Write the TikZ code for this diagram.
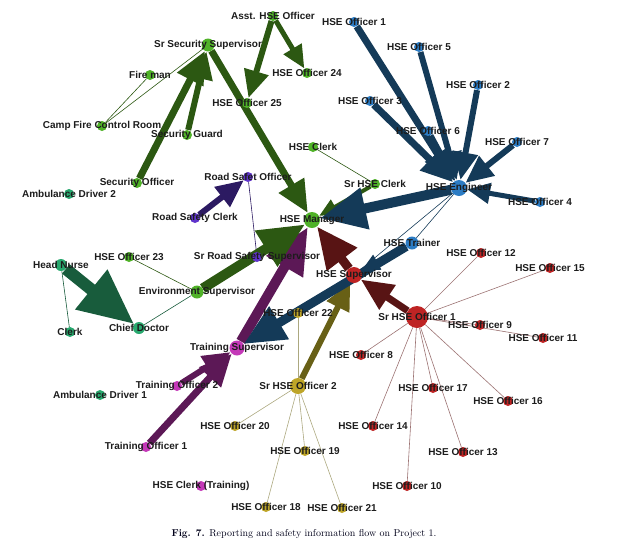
\documentclass[tikz,border=0pt]{standalone}
\usepackage{fontspec}
\newfontfamily\lblfont{Liberation Sans}
\usepackage{tikz}
\usetikzlibrary{arrows.meta}
\pgfdeclarelayer{bg}
\pgfsetlayers{bg,main}

\definecolor{gnode}{RGB}{80,178,40}
\definecolor{gedge}{RGB}{44,88,18}
\definecolor{bnode}{RGB}{44,124,196}
\definecolor{bedge}{RGB}{20,58,88}
\definecolor{rnode}{RGB}{190,36,36}
\definecolor{redge}{RGB}{88,20,20}
\definecolor{onode}{RGB}{190,165,40}
\definecolor{oedge}{RGB}{104,96,22}
\definecolor{mnode}{RGB}{196,56,184}
\definecolor{medge}{RGB}{92,24,86}
\definecolor{vnode}{RGB}{96,52,204}
\definecolor{vedge}{RGB}{44,26,98}
\definecolor{tnode}{RGB}{40,168,110}
\definecolor{tedge}{RGB}{24,92,60}
\definecolor{lbl}{RGB}{28,28,28}

\begin{document}
\begin{tikzpicture}[x=1pt,y=-1pt,
    nd/.style={circle,inner sep=0pt,minimum size=10pt},
    every label/.style={font=\lblfont\bfseries\fontsize{10}{12}\selectfont,text=lbl},
    fl/.style={line width=#1,-{Triangle[length=0pt 4.6,width=0pt 4]}},
    tn/.style={line width=0.6pt},
    gn/.style={nd,fill=gnode}, ge/.style={draw=gedge},
    bn/.style={nd,fill=bnode}, be/.style={draw=bedge},
    rn/.style={nd,fill=rnode}, re/.style={draw=redge},
    on/.style={nd,fill=onode}, oe/.style={draw=oedge},
    mn/.style={nd,fill=mnode}, me/.style={draw=medge},
    vn/.style={nd,fill=vnode}, ve/.style={draw=vedge},
    tln/.style={nd,fill=tnode}, te/.style={draw=tedge}]

  \useasboundingbox (0,0) rectangle (624,555);

  % security / site group
  \node[gn,label=center:{Asst. HSE Officer}] (aho) at (273,16) {};
  \node[gn,minimum size=13pt,label=center:{Sr Security Supervisor}] (sss) at (208,45) {};
  \node[gn,label=center:{Fire man}] (fm) at (150,75) {};
  \node[gn,label=center:{Camp Fire Control Room}] (cfr) at (102,126) {};
  \node[gn,label=center:{Security Guard}] (sg) at (187,135) {};
  \node[gn,label=center:{HSE Officer 25}] (o25) at (247,103) {};
  \node[gn,label=center:{HSE Officer 24}] (o24) at (307,73) {};
  \node[gn,label=center:{Security Officer}] (so) at (137,183) {};
  \node[gn,label=center:{HSE Clerk}] (hc) at (313,147) {};
  \node[gn,label=center:{Sr HSE Clerk}] (shc) at (375,184) {};
  \node[gn,minimum size=16pt,label=center:{HSE Manager}] (mgr) at (312,220) {};
  \node[gn,label=center:{HSE Officer 23}] (o23) at (129,257) {};
  \node[gn,minimum size=13pt,label=center:{Environment Supervisor}] (env) at (197,292) {};

  % medical
  \node[tln,label=center:{Ambulance Driver 2}] (ad2) at (69,194) {};
  \node[tln,minimum size=12pt,label=center:{Head Nurse}] (hn) at (61,265) {};
  \node[tln,label=center:{Clerk}] (clk) at (70,332) {};
  \node[tln,minimum size=12pt,label=center:{Chief Doctor}] (cd) at (139,328) {};
  \node[tln,label=center:{Ambulance Driver 1}] (ad1) at (100,395) {};

  % road safety
  \node[vn,label=center:{Road Safet Officer}] (rso) at (248,177) {};
  \node[vn,label=center:{Road Safety Clerk}] (rsc) at (195,218) {};
  \node[vn,label=center:{Sr Road Safety Supervisor}] (srs) at (257,257) {};

  % engineering
  \node[bn,minimum size=16pt,label=center:{HSE Engineer}] (eng) at (459,188) {};
  \node[bn,label=center:{HSE Officer 1}] (o1) at (354,22) {};
  \node[bn,label=center:{HSE Officer 5}] (o5) at (419,47) {};
  \node[bn,label=center:{HSE Officer 2}] (o2) at (478,85) {};
  \node[bn,label=center:{HSE Officer 3}] (o3) at (370,101) {};
  \node[bn,label=center:{HSE Officer 6}] (o6) at (428,131) {};
  \node[bn,label=center:{HSE Officer 7}] (o7) at (517,142) {};
  \node[bn,label=center:{HSE Officer 4}] (o4) at (540,202) {};
  \node[bn,minimum size=13pt,label=center:{HSE Trainer}] (tr) at (412,243) {};

  % supervision
  \node[rn,minimum size=16pt,label=center:{HSE Supervisor}] (sup) at (354,275) {};
  \node[rn,minimum size=22pt,label=center:{Sr HSE Officer 1}] (sh1) at (417,317) {};
  \node[rn,label=center:{HSE Officer 12}] (o12) at (481,253) {};
  \node[rn,label=center:{HSE Officer 15}] (o15) at (550,268) {};
  \node[rn,label=center:{HSE Officer 9}] (o9) at (480,325) {};
  \node[rn,label=center:{HSE Officer 11}] (o11) at (543,338) {};
  \node[rn,label=center:{HSE Officer 8}] (o8) at (361,355) {};
  \node[rn,label=center:{HSE Officer 17}] (o17) at (433,388) {};
  \node[rn,label=center:{HSE Officer 16}] (o16) at (508,401) {};
  \node[rn,label=center:{HSE Officer 14}] (o14) at (373,426) {};
  \node[rn,label=center:{HSE Officer 13}] (o13) at (463,452) {};
  \node[rn,label=center:{HSE Officer 10}] (o10) at (407,486) {};

  \node[on,minimum size=16pt,label=center:{Sr HSE Officer 2}] (sh2) at (298,386) {};
  \node[on,label=center:{HSE Officer 22}] (o22) at (298,313) {};
  \node[on,label=center:{HSE Officer 20}] (o20) at (235,426) {};
  \node[on,label=center:{HSE Officer 19}] (o19) at (305,451) {};
  \node[on,label=center:{HSE Officer 18}] (o18) at (266,507) {};
  \node[on,label=center:{HSE Officer 21}] (o21) at (342,508) {};

  % training
  \node[mn,minimum size=15pt,label=center:{Training Supervisor}] (ts) at (237,348) {};
  \node[mn,label=center:{Training Officer 2}] (to2) at (177,386) {};
  \node[mn,label=center:{Training Officer 1}] (to1) at (146,447) {};
  \node[mn,label=center:{HSE Clerk (Training)}] (hct) at (201,486) {};

  \node[text=black!90!blue,font=\fontsize{10}{12}\selectfont] (cap) at (304,534)
    {\textbf{Fig. 7.} Reporting and safety information flow on Project 1.};

  \begin{pgfonlayer}{bg}
    % thin links
    \path (cfr) edge[ge,tn] (fm)
                edge[ge,tn] (sss)
          (hc)  edge[ge,tn] (shc)
          (o23) edge[ge,tn] (env)
          (env) edge[te,tn] (cd)
          (hn)  edge[te,tn] (clk)
          (rso) edge[ve,tn] (srs)
          (eng) edge[be,tn] (tr)
                edge[be,tn] (sup);
    \path[re,tn,draw=redge!60!white] (sh1) edge (o12) edge (o15) edge (o9)
          edge (o11) edge (o8) edge (o17) edge (o16) edge (o14) edge (o13) edge (o10);
    \path[oe,tn,draw=oedge!55!white] (sh2) edge (o22) edge (o20) edge (o19)
          edge (o18) edge (o21);

    % reporting flows
    \path (aho) edge[ge,fl=6pt] (o25)
                edge[ge,fl=5pt] (o24)
          (so)  edge[ge,fl=7pt] (sss)
          (sg)  edge[ge,fl=6pt] (sss)
          (sss) edge[ge,fl=7pt] (mgr)
          (shc) edge[ge,fl=4pt] (mgr)
          (hn)  edge[te,fl=12pt] (cd)
          (rsc) edge[ve,fl=6pt] (rso)
          (o1)  edge[be,fl=7pt] (eng)
          (o5)  edge[be,fl=6pt] (eng)
          (o2)  edge[be,fl=6pt] (eng)
          (o3)  edge[be,fl=7pt] (eng)
          (o6)  edge[be,fl=6pt] (eng)
          (o7)  edge[be,fl=6pt] (eng)
          (o4)  edge[be,fl=5pt] (eng)
          (to1) edge[me,fl=7pt] (ts)
          (to2) edge[me,fl=6pt] (ts)
          (ts)  edge[me,fl=10pt] (mgr)
          (sh2) edge[oe,fl=6pt] (sup)
          (sh1) edge[re,fl=7pt] (sup)
          (sup) edge[re,fl=9pt] (mgr)
          (tr)  edge[be,fl=4pt] (sup)
                edge[be,fl=9pt] (ts)
          (eng) edge[be,fl=10pt] (mgr)
          (env) edge[ge,fl=10pt] (mgr);
  \end{pgfonlayer}
\end{tikzpicture}
\end{document}
